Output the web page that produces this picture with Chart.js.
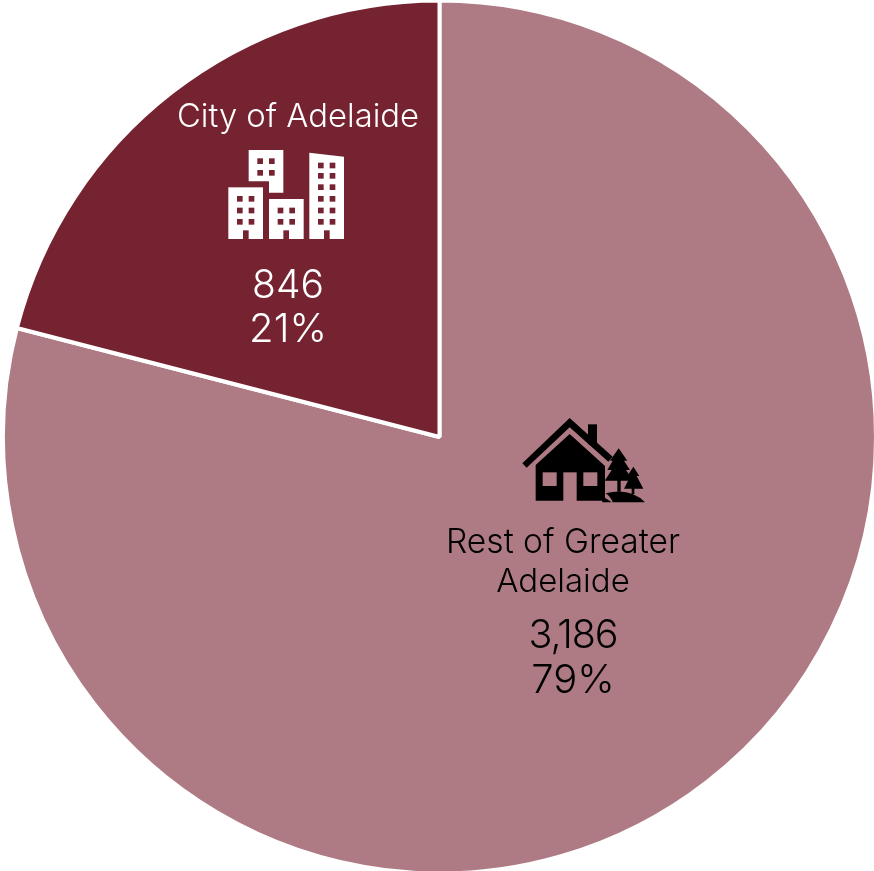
<!DOCTYPE html>
<html>
<head>
<meta charset="utf-8">
<title>Adelaide</title>
<script src="https://cdn.jsdelivr.net/npm/chart.js@4/dist/chart.umd.min.js"></script>
<style>
  html, body { margin: 0; padding: 0; background: #fff; overflow: hidden; }
  #wrap { position: absolute; left: 0; top: -3px; width: 879px; height: 880px; }
</style>
</head>
<body>
<div id="wrap"><canvas id="graph_chart"></canvas></div>
<script>
const categories = ['Rest of Greater Adelaide', 'City of Adelaide'];
const values = [3186, 846];
const valueLabels = ['3,186', '846'];
const shareLabels = ['79%', '21%'];
const colors = ['#AE7B84', '#762331'];

const FONT = 'Inter';
// the canvas sits 3px above the window, icons and labels are read in window pixels
const TOP_SHIFT = 3;

function rect(ctx, x, y, w, h) {
  ctx.fillRect(x, y, w, h);
}

function poly(ctx, pts) {
  ctx.beginPath();
  pts.forEach((p, i) => i ? ctx.lineTo(p[0], p[1]) : ctx.moveTo(p[0], p[1]));
  ctx.closePath();
  ctx.fill();
}

// the icons were measured off a 3x crop, so they are drawn in crop units
function drawCityIcon(ctx) {
  const bg = colors[1];
  ctx.save();
  ctx.translate(170, 90);
  ctx.scale(1 / 3, 1 / 3);
  ctx.fillStyle = '#fff';
  poly(ctx, [[236, 180], [340, 180], [340, 308], [297, 308], [297, 274], [236, 274]]);
  rect(ctx, 175, 292, 104, 155);
  rect(ctx, 297, 327, 104, 120);
  poly(ctx, [[418, 188], [522, 200], [522, 447], [418, 447]]);
  ctx.fillStyle = bg;
  [219, 340, 462].forEach(x => rect(ctx, x, 421, 17, 27));
  [[262, 205], [297, 205], [262, 240], [297, 240]].forEach(w => rect(ctx, w[0], w[1], 17, 17));
  [318, 353, 387].forEach(y => [201, 236].forEach(x => rect(ctx, x, y, 17, 17)));
  [353, 387].forEach(y => [323, 358].forEach(x => rect(ctx, x, y, 17, 17)));
  [218, 249, 283, 318, 353, 387].forEach(y => [444, 479].forEach(x => rect(ctx, x, y, 17, 17)));
  ctx.restore();
}

function drawHouseIcon(ctx) {
  const bg = colors[0];
  ctx.save();
  ctx.translate(430, 410);
  ctx.scale(1 / 3, 1 / 3);
  ctx.fillStyle = '#000';
  // chimney, roof, body
  rect(ctx, 474, 43, 27, 60);
  poly(ctx, [[419, 24], [548, 140], [535, 155], [419, 52], [290, 173], [277, 160]]);
  poly(ctx, [[419, 72], [525, 168], [525, 272], [317, 272], [317, 165]]);
  ctx.fillStyle = bg;
  rect(ctx, 400, 187, 40, 86);
  rect(ctx, 338, 187, 42, 41);
  rect(ctx, 460, 187, 42, 41);
  ctx.fillStyle = '#000';
  // trees and hill
  poly(ctx, [[566, 115], [592, 152], [582, 152], [600, 180], [588, 180], [610, 212], [572, 212], [572, 245], [562, 245], [562, 212], [524, 212], [545, 180], [532, 180], [548, 152], [540, 152]]);
  poly(ctx, [[610, 170], [628, 198], [620, 198], [640, 236], [613, 236], [613, 252], [605, 252], [605, 236], [582, 236], [598, 205], [592, 198]]);
  ctx.beginPath();
  ctx.moveTo(527, 250);
  ctx.quadraticCurveTo(600, 232, 645, 277);
  ctx.lineTo(548, 277);
  ctx.quadraticCurveTo(542, 260, 527, 250);
  ctx.fill();
  poly(ctx, [[517, 258], [545, 277], [517, 277]]);
  ctx.restore();
}

function drawLabel(ctx, lines, x, ys, size, spacing) {
  ctx.font = '300 ' + size + 'px ' + FONT;
  ctx.letterSpacing = (spacing || 0) + 'px';
  lines.forEach((t, i) => ctx.fillText(t, x, ys[i]));
  ctx.letterSpacing = '0px';
}

const pieLabels = {
  id: 'pieLabels',
  afterDatasetsDraw(chart) {
    const ctx = chart.ctx;
    ctx.save();
    ctx.translate(0, TOP_SHIFT);
    ctx.textAlign = 'center';
    ctx.textBaseline = 'alphabetic';

    ctx.fillStyle = '#fff';
    drawLabel(ctx, [categories[1]], 298, [127], 32.8);
    drawLabel(ctx, [valueLabels[1]], 288, [298], 39);
    drawLabel(ctx, [shareLabels[1]], 288, [342], 40);
    drawCityIcon(ctx);

    ctx.fillStyle = '#000';
    drawLabel(ctx, ['Rest of Greater'], 563, [553], 33.6);
    drawLabel(ctx, ['Adelaide'], 563, [592], 33);
    drawLabel(ctx, [valueLabels[0]], 573, [648], 39.5, -1);
    drawLabel(ctx, [shareLabels[0]], 573, [693], 40);
    drawHouseIcon(ctx);
    ctx.restore();
  }
};

new Chart(document.getElementById('graph_chart'), {
  type: 'pie',
  data: {
    labels: categories,
    datasets: [{
      data: values,
      backgroundColor: colors,
      borderColor: '#fff',
      borderWidth: 4
    }]
  },
  options: {
    responsive: true,
    maintainAspectRatio: false,
    animation: false,
    layout: { padding: { left: 1, right: 1, top: 1.5, bottom: 1.5 } },
    plugins: {
      legend: { display: false },
      title: { display: false },
      tooltip: { enabled: false }
    }
  },
  plugins: [pieLabels]
});
</script>
</body>
</html>
